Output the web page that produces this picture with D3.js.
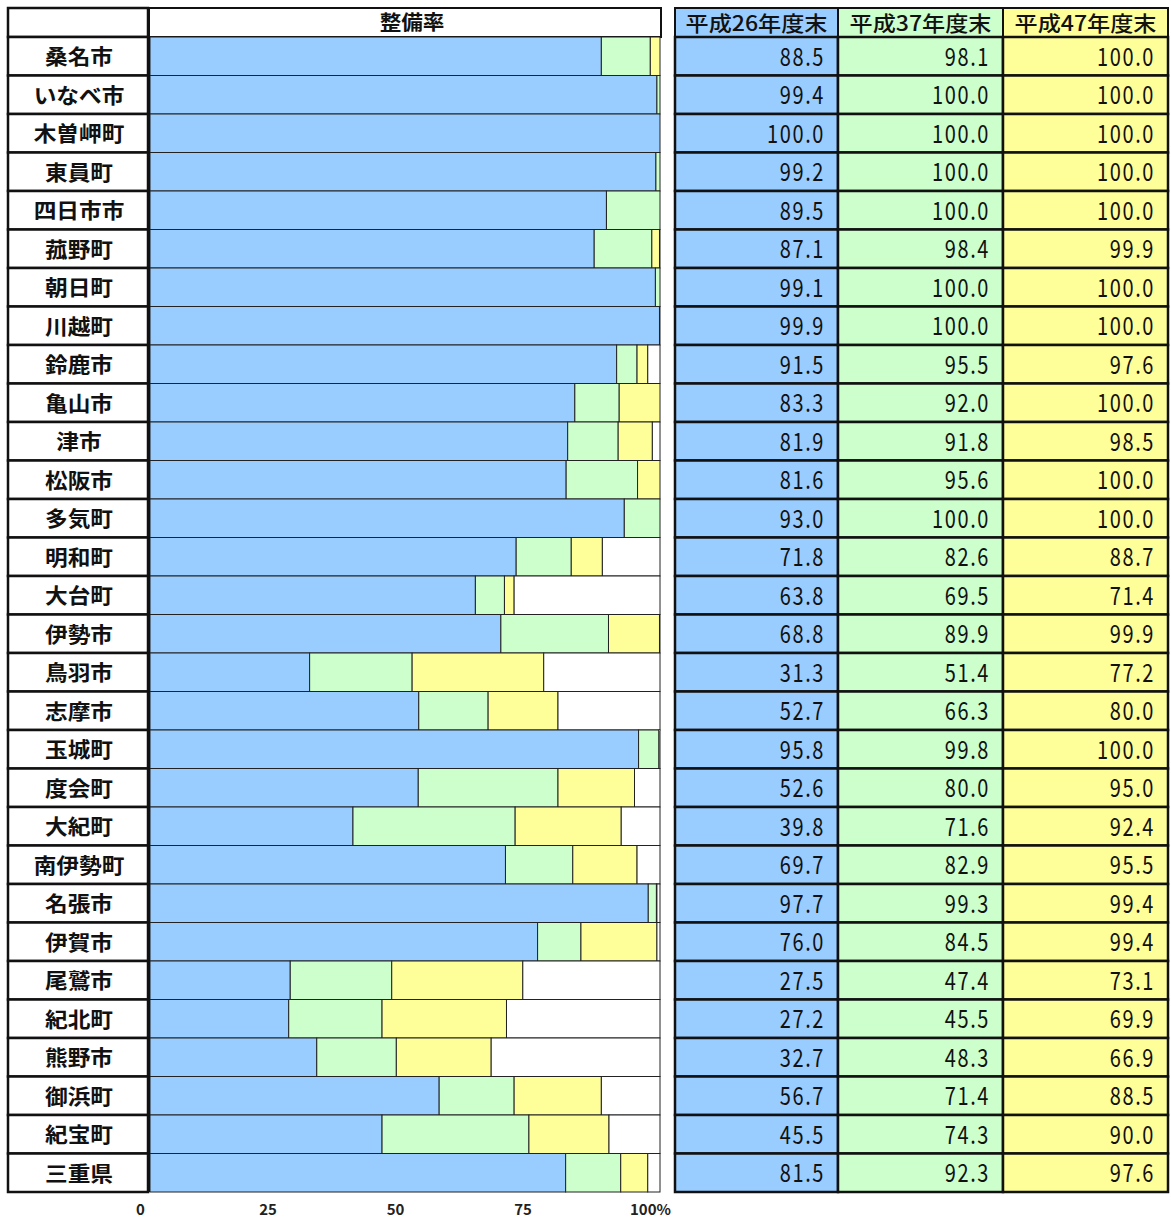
<!DOCTYPE html>
<html>
<head>
<meta charset="utf-8">
<script src="https://cdn.jsdelivr.net/npm/d3@7/dist/d3.min.js"></script>
<style>
body { margin:0; background:#fff; }
svg text { font-family: "Noto Sans CJK JP", sans-serif; }
</style>
</head>
<body>
<script>
// data
var names = ['桑名市','いなべ市','木曽岬町','東員町','四日市市','菰野町','朝日町','川越町','鈴鹿市','亀山市',
    '津市','松阪市','多気町','明和町','大台町','伊勢市','鳥羽市','志摩市','玉城町','度会町',
    '大紀町','南伊勢町','名張市','伊賀市','尾鷲市','紀北町','熊野市','御浜町','紀宝町','三重県']
var h26 = [88.5,99.4,100.0,99.2,89.5,87.1,99.1,99.9,91.5,83.3,81.9,81.6,93.0,71.8,63.8,68.8,31.3,52.7,95.8,52.6,
    39.8,69.7,97.7,76.0,27.5,27.2,32.7,56.7,45.5,81.5]
var h37 = [98.1,100.0,100.0,100.0,100.0,98.4,100.0,100.0,95.5,92.0,91.8,95.6,100.0,82.6,69.5,89.9,51.4,66.3,99.8,80.0,
    71.6,82.9,99.3,84.5,47.4,45.5,48.3,71.4,74.3,92.3]
var h47 = [100.0,100.0,100.0,100.0,100.0,99.9,100.0,100.0,97.6,100.0,98.5,100.0,100.0,88.7,71.4,99.9,77.2,80.0,100.0,95.0,
    92.4,95.5,99.4,99.4,73.1,69.9,66.9,88.5,90.0,97.6]
var seriesNames = ['平成26年度末','平成37年度末','平成47年度末']
var colors = ['#99ccff','#ccffcc','#ffff99']
var tickVals = [0,25,50,75,100]
var barTitle = '整備率'

var width = 1171, height = 1222
var topY = 8, headBottom = 37, bottomY = 1192
var nameLeft = 8, nameRight = 148
var barLeft = 150, barRight = 660
var colEdges = [675, 838, 1003, 1168]

var svg = d3.select('body').append('svg')
    .attr('width', width)
    .attr('height', height)

var x = d3.scaleLinear().domain([0, 100]).range([barLeft, barRight])
var y = d3.scaleBand().domain(names).range([headBottom, bottomY])

var rows = names.map(function(n, i){
    return {name: n, v: [h26[i], h37[i], h47[i]]}
})

// name column
svg.append('rect')
    .attr('x', nameLeft).attr('y', topY)
    .attr('width', nameRight - nameLeft).attr('height', headBottom - topY)
    .attr('fill', '#fff').attr('stroke', '#111').attr('stroke-width', 2.5)

var nameG = svg.append('g')
nameG.selectAll('rect').data(rows).enter().append('rect')
    .attr('x', nameLeft)
    .attr('y', function(d){ return y(d.name) })
    .attr('width', nameRight - nameLeft)
    .attr('height', y.bandwidth())
    .attr('fill', '#fff').attr('stroke', '#111').attr('stroke-width', 2.5)
nameG.selectAll('text').data(rows).enter().append('text')
    .attr('transform', function(d){
        return 'translate(' + ((nameLeft + nameRight) / 2 + 1) + ',' + (y(d.name) + y.bandwidth() / 2 - 1) + ') scale(1.08,1)'
    })
    .attr('text-anchor', 'middle')
    .attr('dominant-baseline', 'central')
    .attr('font-size', 21)
    .attr('font-weight', 700)
    .attr('fill', '#111')
    .text(function(d){ return d.name })

// bar header
svg.append('rect')
    .attr('x', nameRight).attr('y', topY)
    .attr('width', barRight + 1 - nameRight).attr('height', headBottom - topY)
    .attr('fill', '#fff').attr('stroke', '#111').attr('stroke-width', 2)
svg.append('text')
    .attr('transform', 'translate(412,' + ((topY + headBottom) / 2 - 1) + ') scale(1.08,1)')
    .attr('text-anchor', 'middle').attr('dominant-baseline', 'central')
    .attr('font-size', 20).attr('font-weight', 700).attr('fill', '#111')
    .text(barTitle)

// stacked bars: blue to h26, green to h37, yellow to h47, white rest
var segs = []
rows.forEach(function(r){
    var edges = [0, r.v[0], r.v[1], r.v[2], 100]
    var fills = colors.concat(['#fff'])
    for (var k = 0; k < 4; k++){
        if (edges[k+1] > edges[k]) segs.push({name: r.name, x0: edges[k], x1: edges[k+1], fill: fills[k]})
    }
})
svg.append('g').selectAll('rect').data(segs).enter().append('rect')
    .attr('x', function(d){ return x(d.x0) })
    .attr('y', function(d){ return y(d.name) })
    .attr('width', function(d){ return x(d.x1) - x(d.x0) })
    .attr('height', y.bandwidth())
    .attr('fill', function(d){ return d.fill })
    .attr('stroke', '#222').attr('stroke-width', 1)

// left edge of bar area
svg.append('line')
    .attr('x1', barLeft - 1).attr('x2', barLeft - 1)
    .attr('y1', topY).attr('y2', bottomY)
    .attr('stroke', '#111').attr('stroke-width', 2)

// axis labels
var axis = svg.append('g')
    .attr('transform', 'translate(-10,' + (bottomY + 9) + ')')
    .call(d3.axisBottom(x).tickValues(tickVals).tickSize(0)
        .tickFormat(function(d){ return d === 100 ? '100%' : d }))
axis.select('.domain').remove()
axis.selectAll('text')
    .attr('font-family', '"Noto Sans CJK JP", sans-serif')
    .attr('font-size', 15).attr('font-weight', 700).attr('fill', '#222')

// value columns
var cols = svg.append('g')
seriesNames.forEach(function(s, k){
    var x0 = colEdges[k], x1 = colEdges[k+1]
    cols.append('rect')
        .attr('x', x0).attr('y', topY)
        .attr('width', x1 - x0).attr('height', headBottom - topY)
        .attr('fill', colors[k]).attr('stroke', '#111').attr('stroke-width', 2)
    cols.append('text')
        .attr('transform', 'translate(' + ((x0 + x1) / 2) + ',' + ((topY + headBottom) / 2 - 1) + ') scale(1.1,1)')
        .attr('text-anchor', 'middle').attr('dominant-baseline', 'central')
        .attr('font-size', 21).attr('font-weight', 500).attr('fill', '#111')
        .text(s)
    cols.append('g').selectAll('rect').data(rows).enter().append('rect')
        .attr('x', x0)
        .attr('y', function(d){ return y(d.name) })
        .attr('width', x1 - x0)
        .attr('height', y.bandwidth())
        .attr('fill', colors[k]).attr('stroke', '#111').attr('stroke-width', 2.5)
    cols.append('g').selectAll('text').data(rows).enter().append('text')
        .attr('transform', function(d){
            return 'translate(' + (x1 - 13) + ',' + (y(d.name) + y.bandwidth() / 2 - 1) + ') scale(0.8,1)'
        })
        .attr('text-anchor', 'end')
        .attr('dominant-baseline', 'central')
        .attr('font-size', 25)
        .attr('letter-spacing', 2)
        .attr('fill', '#111')
        .text(function(d){ return d.v[k].toFixed(1) })
})
</script>
</body>
</html>
